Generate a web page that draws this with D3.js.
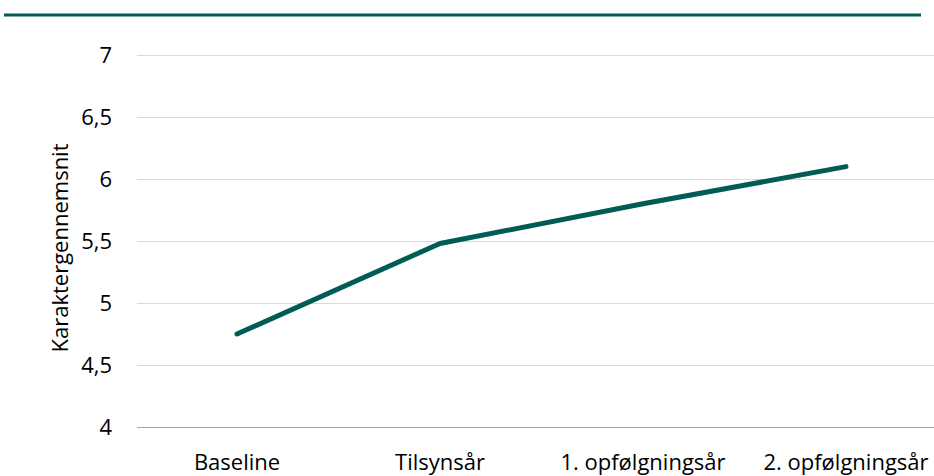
<!DOCTYPE html>
<html>
<head>
<meta charset="utf-8">
<script src="https://cdn.jsdelivr.net/npm/d3@7"></script>
<style>
    body { margin: 0; background: #fff; }
    text { font-family: "Open Sans", "Noto Sans", sans-serif; fill: #000; }
</style>
</head>
<body>
<div class="chartcontainer"></div>
<script>
const categories = ['Baseline', 'Tilsynsår', '1. opfølgningsår', '2. opfølgningsår']
const values = [4.75, 5.48, 5.80, 6.10]
const yTicks = [4, 4.5, 5, 5.5, 6, 6.5, 7]
const yTitle = 'Karaktergennemsnit'

const w = 934
const h = 476
const color = '#005c55'

const svg = d3.select('.chartcontainer')
    .append('svg')
    .attr('width', w)
    .attr('height', h)

// heading rule at the top
svg.append('line')
    .attr('x1', 4).attr('x2', 921)
    .attr('y1', 15).attr('y2', 15)
    .attr('stroke', color)
    .attr('stroke-width', 3)

const xScale = d3.scaleBand()
    .domain(categories)
    .range([135.5, 947.5])

const yScale = d3.scaleLinear()
    .domain([4, 7])
    .range([427, 55])

// gridlines
svg.append('g')
    .selectAll('line')
    .data(yTicks)
    .enter()
    .append('line')
    .attr('x1', 137)
    .attr('x2', w)
    .attr('y1', d => yScale(d) + 0.5)
    .attr('y2', d => yScale(d) + 0.5)
    .attr('stroke', d => d === 4 ? '#a6a6a6' : '#d9d9d9')
    .attr('stroke-width', 1)

// y tick labels
svg.append('g')
    .selectAll('text')
    .data(yTicks)
    .enter()
    .append('text')
    .attr('x', 112)
    .attr('y', d => yScale(d))
    .attr('dy', '0.36em')
    .attr('text-anchor', 'end')
    .style('font-size', '22px')
    .text(d => String(d).replace('.', ','))

// x labels
svg.append('g')
    .selectAll('text')
    .data(categories)
    .enter()
    .append('text')
    .attr('x', d => xScale(d) + xScale.bandwidth() / 2)
    .attr('y', 470)
    .attr('text-anchor', 'middle')
    .style('font-size', '22px')
    .text(d => d)

// y axis title
svg.append('text')
    .attr('transform', 'translate(68,248) rotate(-90)')
    .attr('text-anchor', 'middle')
    .style('font-size', '22px')
    .text(yTitle)

const line = d3.line()
    .x((d, i) => xScale(categories[i]) + xScale.bandwidth() / 2)
    .y(d => yScale(d))

svg.append('path')
    .datum(values)
    .attr('d', line)
    .attr('fill', 'none')
    .attr('stroke', color)
    .attr('stroke-width', 5)
    .attr('stroke-linecap', 'round')
    .attr('stroke-linejoin', 'round')
</script>
</body>
</html>
